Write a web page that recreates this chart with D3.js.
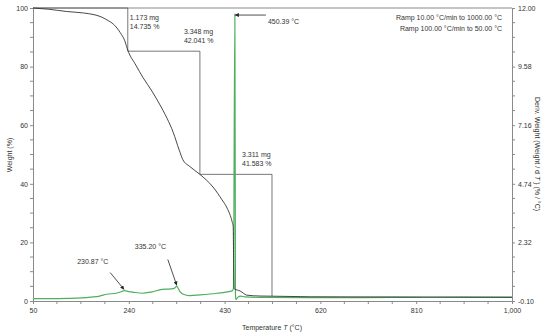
<!DOCTYPE html>
<html lang="en">
<head>
  <meta charset="UTF-8">
  <title>TGA / DTG</title>
  <script src="https://d3js.org/d3.v7.min.js"></script>
  <style>
    body { margin: 0; background: #fff; }
    text { font-family: "Liberation Sans", Arial, sans-serif; fill: #333; }
  </style>
</head>
<body>
  <div class="chart"></div>
  <script>
      // temperature (°C) / weight (%)
      const tgaTemp = [50, 80, 117, 150, 169, 185, 197, 210, 223, 232, 238, 254, 268, 286, 296, 308, 316, 328, 340, 347, 361, 381, 407, 425, 435, 445, 447, 448, 449, 461, 474, 500, 524, 600, 800, 1000];
      const tgaWeight = [100, 99.6, 98.8, 98.3, 97.8, 97.0, 95.9, 94.4, 91.6, 88.8, 85.6, 80.5, 76.3, 71.6, 68.7, 65.0, 62.3, 57.6, 51.5, 48.3, 45.9, 43.22, 38.9, 34.5, 31.7, 27.0, 25.5, 12.0, 4.2, 3.4, 2.0, 1.7, 1.64, 1.45, 1.35, 1.25];

      // temperature (°C) / deriv. weight (%/°C)
      const dtgTemp = [50, 100, 148, 165, 182, 196, 215, 225, 230.87, 240, 247, 267, 286, 306, 323, 330, 335.2, 341, 347, 361, 381, 415, 445, 447.5, 450.39, 451.5, 452.5, 456, 462, 470, 500, 600, 700, 800, 900, 1000];
      const dtgValue = [0.0, 0.0, 0.03, 0.06, 0.1, 0.18, 0.22, 0.28, 0.33, 0.29, 0.27, 0.22, 0.28, 0.38, 0.40, 0.42, 0.5, 0.3, 0.19, 0.12, 0.15, 0.22, 0.32, 0.42, 11.75, 0.2, -0.04, 0.05, 0.1, 0.07, 0.05, 0.04, 0.04, 0.05, 0.06, 0.06];

      // weight-loss steps
      const stepTemp = [50, 238, 381, 524];
      const stepWeight = [100, 85.265, 43.224, 1.641];
      const stepLabels = [['1.173 mg', '14.735 %'], ['3.348 mg', '42.041 %'], ['3.311 mg', '41.583 %']];

      const xTicks = [50, 240, 430, 620, 810, 1000];
      const yTicks = [0, 20, 40, 60, 80, 100];
      const y2Ticks = [-0.10, 2.32, 4.74, 7.16, 9.58, 12.00];

      const peakLabels = [
        { t: 230.87, text: '230.87 °C' },
        { t: 335.20, text: '335.20 °C' },
        { t: 450.39, text: '450.39 °C' }
      ];
      const ramps = ['Ramp 10.00 °C/min to 1000.00 °C', 'Ramp 100.00 °C/min to 50.00 °C'];

      const width = 550, height = 336;
      const m = { left: 33, right: 38, top: 8, bottom: 35 };

      const svg = d3.select('.chart').append('svg').attr('width', width).attr('height', height);

      const x = d3.scaleLinear().domain([50, 1000]).range([m.left, width - m.right]);
      const y = d3.scaleLinear().domain([0, 100]).range([height - m.bottom, m.top]);
      const y2 = d3.scaleLinear().domain([-0.10, 12.00]).range([height - m.bottom, m.top]);

      const axisColor = '#8a8a8a';

      // minor ticks (4 subdivisions)
      const minor = (ticks) => {
        const out = [];
        for (let i = 0; i < ticks.length - 1; i++) {
          const s = (ticks[i + 1] - ticks[i]) / 4;
          for (let k = 1; k < 4; k++) out.push(ticks[i] + s * k);
        }
        return out;
      };

      const styleAxis = g => {
        g.selectAll('path, line').attr('stroke', axisColor);
        g.selectAll('text').style('font-size', '7px').attr('fill', '#444');
      };

      // frame top
      svg.append('line')
        .attr('x1', x(50)).attr('x2', x(1000)).attr('y1', m.top).attr('y2', m.top)
        .attr('stroke', axisColor);

      const gx = svg.append('g').attr('transform', `translate(0,${height - m.bottom})`)
        .call(d3.axisBottom(x).tickValues(xTicks).tickSize(3).tickSizeOuter(0).tickPadding(4));
      gx.append('g').selectAll('line').data(minor(xTicks)).join('line')
        .attr('x1', d => x(d)).attr('x2', d => x(d)).attr('y1', 0).attr('y2', 3);
      styleAxis(gx);

      const gy = svg.append('g').attr('transform', `translate(${m.left},0)`)
        .call(d3.axisLeft(y).tickValues(yTicks).tickSize(3).tickSizeOuter(0).tickPadding(2));
      gy.append('g').selectAll('line').data(minor(yTicks)).join('line')
        .attr('y1', d => y(d)).attr('y2', d => y(d)).attr('x1', 0).attr('x2', -3);
      styleAxis(gy);

      const gy2 = svg.append('g').attr('transform', `translate(${width - m.right},0)`)
        .call(d3.axisRight(y2).tickValues(y2Ticks).tickSize(3).tickSizeOuter(0).tickPadding(3)
          .tickFormat(d => d.toFixed(2)));
      gy2.append('g').selectAll('line').data(minor(y2Ticks)).join('line')
        .attr('y1', d => y2(d)).attr('y2', d => y2(d)).attr('x1', 0).attr('x2', 3);
      styleAxis(gy2);

      // axis titles
      const xt = svg.append('text').attr('x', 272).attr('y', 330).attr('text-anchor', 'middle').style('font-size', '7px');
      xt.append('tspan').text('Temperature ');
      xt.append('tspan').attr('font-style', 'italic').text('T');
      xt.append('tspan').text(' (°C)');

      svg.append('text').attr('transform', 'translate(12,155) rotate(-90)')
        .attr('text-anchor', 'middle').style('font-size', '7px').text('Weight  (%)');

      const yt = svg.append('text').attr('transform', 'translate(535,154) rotate(90)')
        .attr('text-anchor', 'middle').style('font-size', '7px');
      yt.append('tspan').text('Deriv. Weight (Weight / d ');
      yt.append('tspan').attr('font-style', 'italic').text('T');
      yt.append('tspan').text(' ) (% / °C)');

      // step markers
      const stepPts = [];
      stepTemp.forEach((t, i) => {
        if (i > 0) stepPts.push([t, stepWeight[i - 1]]);
        stepPts.push([t, stepWeight[i]]);
      });
      svg.append('path')
        .attr('d', d3.line().x(d => x(d[0])).y(d => y(d[1]))(stepPts))
        .attr('fill', 'none').attr('stroke', '#555').attr('stroke-width', 0.8);

      // label offset from the top corner of each step
      const labelPos = [[2, 11.5], [-16, -17.5], [-30, -17]];
      stepLabels.forEach((lbl, i) => {
        const lx = x(stepTemp[i + 1]) + labelPos[i][0];
        const ly = y(stepWeight[i]) + labelPos[i][1];
        const t = svg.append('text').attr('x', lx).attr('y', ly).style('font-size', '7px');
        lbl.forEach((s, k) => t.append('tspan').attr('x', lx).attr('dy', k ? 9 : 0).text(s));
      });

      // DTG curve
      svg.append('path')
        .datum(dtgTemp.map((t, i) => [t, dtgValue[i]]))
        .attr('d', d3.line().x(d => x(d[0])).y(d => y2(d[1])).curve(d3.curveMonotoneX))
        .attr('fill', 'none').attr('stroke', '#4daf5c').attr('stroke-width', 1.2);

      // TGA curve
      svg.append('path')
        .datum(tgaTemp.map((t, i) => [t, tgaWeight[i]]))
        .attr('d', d3.line().x(d => x(d[0])).y(d => y(d[1])).curve(d3.curveMonotoneX))
        .attr('fill', 'none').attr('stroke', '#333').attr('stroke-width', 0.9);

      // peak arrows
      svg.append('defs').append('marker')
        .attr('id', 'ah').attr('viewBox', '0 0 6 6').attr('refX', 6).attr('refY', 3)
        .attr('markerWidth', 5).attr('markerHeight', 5).attr('orient', 'auto')
        .append('path').attr('d', 'M0,0L6,3L0,6Z').attr('fill', '#222');

      const peakVal = t => dtgValue[dtgTemp.indexOf(t)];
      const arrowFrom = [[-14, -17], [-9, -26], [31, 0]];
      const textPos = [[-47, -26], [-42, -36], [33, 9]];
      peakLabels.forEach((p, i) => {
        const px = x(p.t), py = y2(peakVal(p.t)) + (i === 2 ? 1 : -1);
        svg.append('line')
          .attr('x1', px + arrowFrom[i][0]).attr('y1', py + arrowFrom[i][1])
          .attr('x2', px).attr('y2', py)
          .attr('stroke', '#222').attr('stroke-width', 0.8).attr('marker-end', 'url(#ah)');
        svg.append('text').attr('x', px + textPos[i][0]).attr('y', py + textPos[i][1])
          .style('font-size', '7px').text(p.text);
      });

      // ramp notes
      ramps.forEach((r, i) => {
        svg.append('text').attr('x', 502).attr('y', 20 + i * 11)
          .attr('text-anchor', 'end').style('font-size', '7px').text(r);
      });
  </script>
</body>
</html>
